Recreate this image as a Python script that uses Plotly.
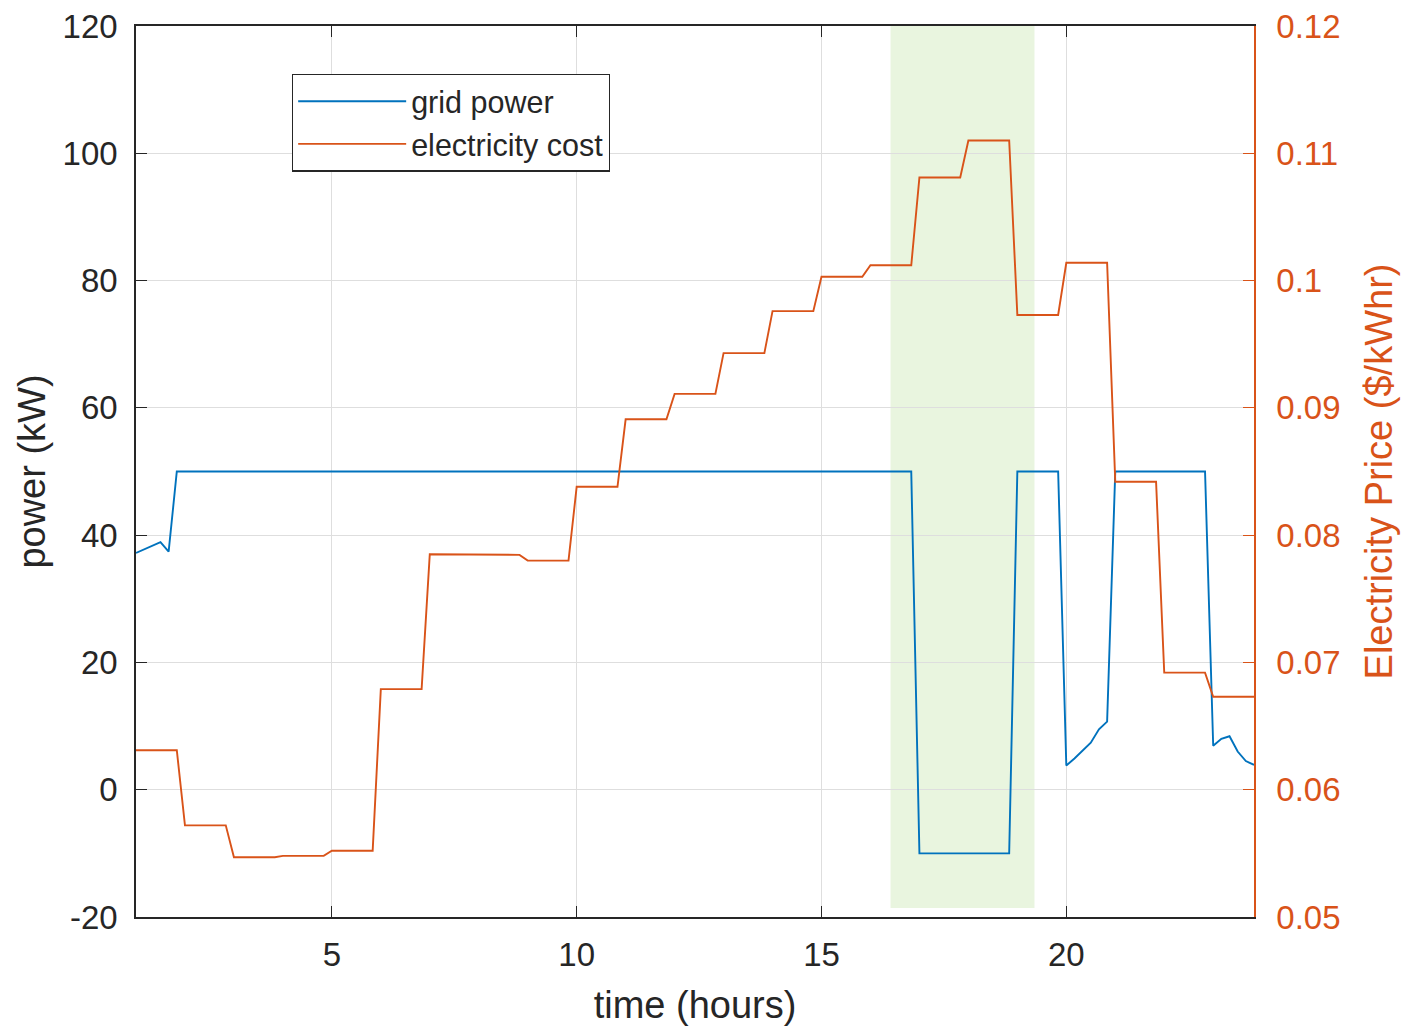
import plotly.graph_objects as go

# ---------------- data ----------------
# hourly electricity price ($/kWhr), hours 1..23 (sampled every 10 minutes)
price_hours = list(range(1, 24))
price_values = [0.0631, 0.0572, 0.0547, 0.0548, 0.0552, 0.0679, 0.0785, 0.07845,
                0.0780, 0.0838, 0.0891, 0.0911, 0.0943, 0.0976, 0.1003, 0.1012,
                0.1081, 0.1110, 0.0973, 0.1014, 0.0842, 0.0692, 0.0673]
samples_per_hour = 6

# grid power (kW) breakpoints
grid_time = [1.0, 1.1667, 1.3333, 1.5, 1.6667, 1.8333, 16.8333, 17.0, 18.8333, 19.0,
             19.8333, 20.0, 20.1667, 20.3333, 20.5, 20.6667, 20.8333, 21.0, 22.8333,
             23.0, 23.1667, 23.3333, 23.5, 23.6667, 23.8333]
grid_power = [37.2, 37.8, 38.4, 38.9, 37.4, 50, 50, -10, -10, 50,
              50, 3.8, 4.9, 6.1, 7.4, 9.5, 10.7, 50, 50,
              6.9, 8.0, 8.4, 6.0, 4.5, 3.9]

# shaded peak window (hours) and its vertical extent on the power axis
peak_start, peak_end = 16.41, 19.35
peak_low, peak_high = -18.6, 120

x_ticks = [5, 10, 15, 20]
left_ticks = [-20, 0, 20, 40, 60, 80, 100, 120]
left_tick_text = ["-20", "0", "20", "40", "60", "80", "100", "120"]
right_ticks = [0.05, 0.06, 0.07, 0.08, 0.09, 0.10, 0.11, 0.12]
right_tick_text = ["0.05", "0.06", "0.07", "0.08", "0.09", "0.1", "0.11", "0.12"]

# expand hourly price into 10-minute samples
price_t, price_y = [], []
for h, v in zip(price_hours, price_values):
    for k in range(samples_per_hour):
        price_t.append(h + k / samples_per_hour)
        price_y.append(v)

BLUE = "#0072BD"
ORANGE = "#D95319"
DARK = "#262626"
FONT = "Liberation Sans, Arial, Helvetica, sans-serif"

fig = go.Figure()
fig.add_trace(go.Scatter(x=grid_time, y=grid_power, mode="lines", name="grid power",
                         line=dict(color=BLUE, width=1.9), yaxis="y"))
fig.add_trace(go.Scatter(x=price_t, y=price_y, mode="lines", name="electricity cost",
                         line=dict(color=ORANGE, width=1.9), yaxis="y2"))

fig.add_shape(type="rect", xref="x", yref="y", x0=peak_start, x1=peak_end,
              y0=peak_low, y1=peak_high, fillcolor="#e9f5df", line=dict(width=0),
              layer="below")

fig.update_layout(
    width=1402, height=1026,
    margin=dict(l=136, r=148, t=26, b=109),
    paper_bgcolor="white", plot_bgcolor="white",
    font=dict(family=FONT, size=33, color=DARK),
    showlegend=True,
    legend=dict(x=0.1395, y=0.9465, xanchor="left", yanchor="top",
                bgcolor="white", bordercolor=DARK, borderwidth=1.2,
                font=dict(size=30.5, color=DARK), itemwidth=108,
                tracegroupgap=0),
    xaxis=dict(range=[1, 23.8333], tickvals=x_ticks, ticks="inside", ticklen=11,
               tickwidth=1.2, tickcolor=DARK, showline=True, linecolor=DARK,
               linewidth=1.5, mirror="ticks", showgrid=True, gridcolor="#dedede",
               gridwidth=1, zeroline=False, ticklabelstandoff=8, automargin=False,
               title=dict(text="time (hours)", font=dict(size=38), standoff=19),
               tickfont=dict(size=33, color=DARK)),
    yaxis=dict(range=[-20, 120], tickvals=left_ticks, ticktext=left_tick_text,
               ticks="inside", ticklen=11, automargin=False,
               tickwidth=1.2, tickcolor=DARK, showline=True, linecolor=DARK,
               linewidth=1.5, showgrid=True, gridcolor="#dedede", gridwidth=1,
               zeroline=False, ticklabelstandoff=10,
               title=dict(text="power (kW)", font=dict(size=38), standoff=5),
               tickfont=dict(size=33, color=DARK)),
    yaxis2=dict(range=[0.05, 0.12], overlaying="y", side="right",
                tickvals=right_ticks, ticktext=right_tick_text, ticks="inside",
                ticklen=11, tickwidth=1.2, tickcolor=ORANGE, showline=True,
                linecolor=ORANGE, linewidth=1.5, showgrid=False, zeroline=False,
                ticklabelstandoff=14, automargin=False,
                title=dict(text="Electricity Price ($/kWhr)",
                           font=dict(size=38, color=ORANGE), standoff=26),
                tickfont=dict(size=33, color=ORANGE)),
)

fig.write_html("out.html")
